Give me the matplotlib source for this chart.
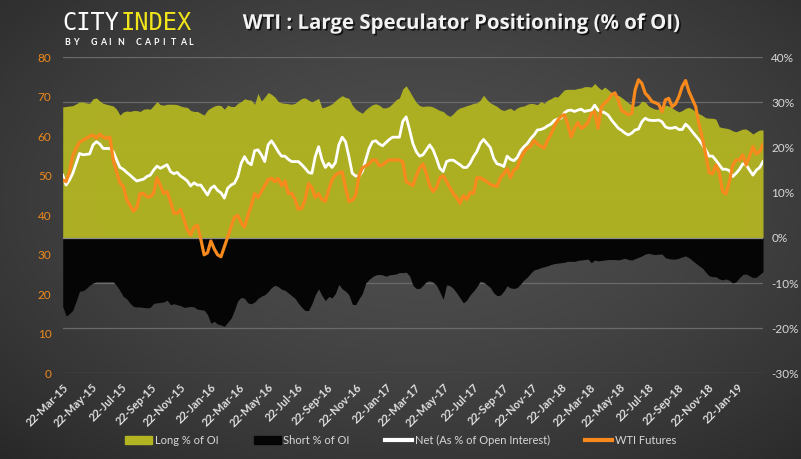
import matplotlib
matplotlib.use('Agg')
import matplotlib.pyplot as plt
import matplotlib.patheffects as pe
from matplotlib.patches import Patch
from matplotlib.lines import Line2D
import numpy as np
import pandas as pd

# weekly COT readings, first week 22-Mar-15
first_week = '2015-03-22'

long_pct = [
    29.0, 29.1, 29.2, 29.3, 29.7, 30.1, 30.1, 29.9, 29.8, 30.8, 31.0, 30.3, 29.8, 29.6, 29.4,
    29.2, 28.5, 27.2, 27.9, 28.1, 28.0, 28.2, 28.2, 28.0, 28.5, 28.6, 28.5, 29.3, 30.2, 29.5,
    29.4, 29.6, 29.6, 29.6, 29.5, 29.2, 29.0, 28.9, 28.2, 28.0, 28.0, 27.6, 27.2, 28.3, 28.8,
    29.2, 29.4, 29.3, 28.5, 29.4,
    29.1, 29.1, 29.8, 30.2, 30.8, 30.6, 30.5, 29.6, 32.0, 30.3, 31.2, 32.2, 31.8, 31.2, 30.2,
    29.9, 29.8, 29.7, 29.6, 29.8, 30.4, 30.9, 31.0, 30.5, 30.1, 30.5, 30.9, 28.8, 29.0, 29.3,
    29.7, 30.4, 31.0, 31.5, 31.1, 30.9, 29.4, 28.5, 28.0, 27.6, 28.4, 29.0, 29.5, 29.7, 29.4,
    28.8, 28.8, 29.1, 29.8, 30.6, 31.0, 33.0, 33.7, 32.5,
    31.2, 30.0, 29.3, 29.1, 29.2, 29.2, 29.0, 28.6, 28.2, 28.0, 27.3, 26.9, 27.5, 28.3, 28.8,
    29.0, 29.3, 29.5, 29.8, 29.9, 30.5, 31.6, 30.6, 29.9, 29.5, 29.1, 28.5, 28.2, 28.5, 28.7,
    28.2, 28.8, 29.1, 29.2, 29.6, 29.8, 29.7, 29.5, 30.2, 29.8, 30.5, 30.8, 31.3, 31.2, 32.0,
    32.8, 32.9, 32.9, 32.9, 33.1, 33.2, 33.5, 33.5,
    33.4, 34.2, 33.4, 32.8, 33.4, 32.8, 32.2, 31.4, 31.6, 31.1, 30.5, 29.9, 29.4, 29.1, 29.4,
    30.3, 30.1, 29.2, 28.8, 28.5, 28.5, 28.5, 29.4, 29.2, 28.8, 28.3, 27.9, 28.2, 28.7, 28.9,
    28.5, 27.9, 27.5, 27.1, 26.6, 26.5, 26.5, 26.3, 24.6, 24.4, 24.3, 24.1, 23.7, 23.5, 23.8,
    24.1, 24.1, 23.6, 23.0, 23.5, 23.9, 23.9,
]

short_pct = [
    -15.2, -17.3, -16.8, -16.0, -14.0, -11.8, -11.7, -11.2, -10.5, -10.0, -9.7, -9.7, -9.7, -9.7, -9.7,
    -9.7, -10.6, -11.7, -13.0, -13.5, -14.5, -15.2, -15.3, -15.3, -15.4, -15.5, -15.4, -14.5, -14.4, -14.3,
    -14.2, -13.8, -14.8, -14.6, -14.8, -15.0, -15.4, -15.3, -15.2, -15.3, -15.8, -15.9, -16.0, -17.0, -18.9,
    -18.5, -19.1, -19.3, -19.6, -18.7,
    -17.8, -16.0, -13.9, -13.2, -13.4, -14.4, -14.6, -14.2, -13.4, -12.9, -12.6, -11.9, -11.0, -10.5, -10.8,
    -11.4, -11.6, -12.2, -12.8, -13.4, -14.5, -15.4, -16.1, -16.1, -14.6, -12.6, -11.3, -12.8, -13.9, -13.0,
    -13.3, -12.3, -10.3, -11.3, -11.8, -12.6, -14.7, -14.8, -13.5, -12.3, -10.0, -9.2, -8.6, -8.2, -8.1,
    -8.2, -8.5, -8.2, -8.1, -8.0, -7.7, -7.7, -7.6, -8.4,
    -10.5, -11.2, -11.2, -10.5, -9.7, -9.5, -9.8, -10.5, -12.0, -13.6, -10.4, -10.6, -11.2, -12.2, -13.3,
    -14.4, -13.8, -12.6, -11.8, -10.8, -9.6, -9.8, -10.4, -11.0, -12.2, -12.8, -12.7, -11.8, -10.6, -11.1,
    -11.2, -11.0, -10.2, -9.3, -8.7, -7.8, -7.1, -6.9, -6.6, -6.4, -6.2, -5.9, -5.7, -5.6, -5.5,
    -5.4, -5.2, -5.2, -5.2, -5.0, -4.9, -4.8, -4.7,
    -5.5, -4.9, -5.1, -5.0, -4.9, -4.8, -4.8, -4.8, -4.9, -4.7, -4.5, -4.8, -4.9, -4.6, -4.3,
    -4.0, -3.6, -3.4, -3.6, -3.7, -3.6, -3.6, -4.4, -4.6, -4.7, -4.7, -4.5, -4.2, -4.0, -4.4,
    -5.0, -5.6, -6.2, -6.7, -7.6, -8.4, -8.6, -8.6, -9.1, -9.3, -9.1, -9.4, -10.0, -9.7, -8.8,
    -8.1, -8.0, -8.4, -8.8, -8.7, -8.1, -7.5,
]

net_pct = [
    13.9, 11.7, 12.8, 14.3, 16.5, 18.7, 18.4, 18.5, 18.6, 20.6, 21.3, 20.8, 19.8, 19.8, 19.8,
    19.1, 17.3, 15.6, 15.2, 14.5, 13.9, 13.2, 12.6, 12.8, 13.0, 13.6, 13.9, 15.0, 15.9, 15.4,
    15.8, 16.2, 14.7, 14.2, 14.5, 13.7, 13.2, 12.6, 11.5, 12.2, 11.7, 11.7, 10.6, 9.5, 11.0,
    11.5, 10.5, 10.0, 8.8, 11.0,
    11.7, 12.1, 13.6, 16.5, 18.0, 16.7, 16.2, 19.3, 19.5, 18.4, 16.9, 20.6, 21.5, 20.4, 19.1,
    18.1, 18.1, 17.4, 16.9, 16.9, 16.9, 16.2, 15.4, 14.5, 14.3, 18.0, 20.2, 17.3, 15.6, 16.5,
    15.6, 16.7, 20.6, 22.3, 21.3, 18.0, 14.3, 13.7, 13.7, 14.7, 17.3, 19.8, 21.3, 21.5, 20.8,
    20.4, 21.1, 21.8, 22.3, 22.3, 22.3, 25.8, 26.8, 24.0,
    20.9, 19.1, 18.1, 18.4, 19.5, 20.6, 19.5, 17.6, 15.4, 14.7, 16.9, 17.2, 17.2, 16.7, 16.2,
    15.6, 15.6, 16.5, 18.0, 19.1, 20.9, 21.8, 20.9, 20.0, 17.6, 16.4, 16.2, 15.8, 18.1, 17.4,
    17.1, 17.8, 19.3, 20.2, 20.9, 22.0, 22.8, 23.9, 24.0, 24.3, 24.8, 25.2, 26.0, 26.3, 26.5,
    27.7, 28.2, 28.3, 28.0, 28.3, 28.5, 28.0, 28.2,
    28.3, 29.4, 28.3, 28.0, 27.7, 27.2, 26.1, 25.2, 24.3, 23.8, 23.2, 22.8, 23.2, 23.9, 24.1,
    25.7, 26.5, 26.1, 26.0, 26.0, 26.1, 25.7, 24.6, 24.3, 24.3, 24.5, 24.0, 24.0, 25.2, 24.5,
    23.5, 22.6, 21.7, 20.6, 19.5, 18.1, 18.1, 17.2, 16.2, 15.2, 15.2, 14.9, 13.6, 14.3, 15.2,
    16.4, 16.2, 15.0, 13.9, 15.0, 15.6, 16.9,
]

wti = [
    49.0, 48.5, 51.0, 55.0, 57.0, 58.5, 59.0, 59.5, 60.0, 60.3, 59.5, 60.5, 59.8, 59.5, 59.8,
    54.0, 51.0, 48.2, 47.3, 44.0, 42.5, 41.0, 42.0, 45.5, 45.5, 44.7, 44.7, 45.6, 49.5, 47.5,
    45.5, 46.0, 43.5, 40.5, 40.5, 41.5, 39.0, 36.3, 35.0, 37.0, 37.5, 34.0, 30.0, 30.5, 33.5,
    31.5, 30.0, 29.5, 32.0, 34.5,
    37.0, 39.5, 40.0, 38.0, 37.0, 40.0, 42.5, 45.5, 44.5, 46.0, 47.5, 49.0, 49.4, 48.5, 49.3,
    47.5, 48.7, 45.5, 45.6, 44.0, 41.5, 41.8, 44.0, 48.0, 47.0, 44.5, 45.5, 44.0, 43.5, 46.5,
    49.0, 50.2, 50.7, 51.0, 47.0, 43.5, 43.8, 45.0, 50.0, 52.0, 52.5, 53.0, 54.0, 54.0, 52.5,
    52.8, 53.5, 54.0, 54.0, 54.0, 54.0, 53.5, 48.5, 48.0,
    47.5, 50.0, 52.0, 53.0, 50.5, 47.5, 46.0, 47.0, 49.5, 50.0, 48.5, 47.0, 45.5, 44.5, 43.0,
    45.0, 44.0, 45.8, 45.5, 49.5, 49.5, 49.0, 48.5, 47.8, 47.5, 47.3, 49.5, 50.5, 51.8, 49.5,
    51.5, 52.0, 54.5, 56.0, 57.0, 57.5, 59.0, 58.0, 57.5, 57.0, 59.0, 60.5, 62.5, 64.0, 65.0,
    65.5, 63.0, 59.8, 62.0, 63.5, 62.0, 62.5, 63.5, 65.8,
    66.2, 62.0, 67.5, 68.4, 69.2, 70.5, 71.0, 69.2, 66.5, 66.0, 65.4, 65.8, 71.7, 74.3, 73.4,
    70.9, 70.0, 68.8, 68.5, 68.1, 66.2, 69.2, 69.6, 67.5, 68.2, 70.0, 72.6, 74.1, 71.3, 69.4,
    67.5, 62.9, 59.5, 55.3, 50.8, 50.5, 52.7, 50.8, 46.0, 45.4, 48.5, 52.7, 54.0, 54.0, 55.3,
    52.7, 54.9, 57.4, 55.5, 56.1, 58.0,
]

dates = pd.date_range(first_week, periods=len(wti), freq='7D')
tick_dates = pd.date_range('2015-03-22', periods=24, freq=pd.DateOffset(months=2))
pct_ticks = list(range(-30, 41, 10))
wti_ticks = list(range(0, 81, 10))

small = ['Lato', 'DejaVu Sans']

fig = plt.figure(figsize=(8.01, 4.59), dpi=100)

# dark radial background
bg = fig.add_axes([0, 0, 1, 1], zorder=-10)
yy, xx = np.mgrid[0:459, 0:801]
r = np.sqrt(((xx - 420) / 560.0) ** 2 + ((yy - 200) / 330.0) ** 2)
v = np.clip(0.305 - 0.13 * r ** 1.6, 0.16, 0.31)
bg.imshow(np.dstack([v, v, v]), aspect='auto', extent=[0, 1, 0, 1])
bg.axis('off')

ax = fig.add_axes([0.0783, 0.1867, 0.8743, 0.6885])
ax.patch.set_alpha(0)
ax.set_xlim(dates[0], dates[-1])
ax.set_ylim(-30, 40)
ax.set_yticks(pct_ticks)
ax.yaxis.grid(True, color='#6a6a6a', lw=0.9)
ax.set_axisbelow(True)

ax.fill_between(dates, 0, long_pct, color='#b2b422', lw=0, alpha=0.96, zorder=2)
ax.fill_between(dates, short_pct, 0, color='#050505', lw=0, zorder=2)
ax.axhline(0, color='#8c8c8c', lw=0.9, zorder=3)
ax.plot(dates, net_pct, color='white', lw=2.0, zorder=4)

ax2 = ax.twinx()
ax2.set_ylim(0, 80)
ax2.set_yticks(wti_ticks)
ax2.plot(dates, wti, color='#f7891d', lw=2.3, zorder=5)

ax.yaxis.tick_right()
ax2.yaxis.tick_left()
ax.set_yticklabels(['{}%'.format(t) for t in pct_ticks], color='#d8d8d8', fontsize=8.5, family=small)
ax2.set_yticklabels([str(t) for t in wti_ticks], color='#f08a1c', fontsize=8.5, family=small)
ax.tick_params(axis='y', length=0, pad=6)
ax2.tick_params(axis='y', length=0, pad=8)

ax.set_xticks(tick_dates)
ax.set_xticklabels([d.strftime('%d-%b-%y') for d in tick_dates], rotation=45, ha='right',
                   rotation_mode='anchor', color='#e0e0e0', fontsize=8, fontweight='bold',
                   family=small)
ax.tick_params(axis='x', length=0, pad=6)

for a in (ax, ax2):
    for s in a.spines.values():
        s.set_visible(False)

# title and logo
shadow = [pe.withSimplePatchShadow(offset=(1.2, -1.2), shadow_rgbFace='black', alpha=0.7)]
fig.text(0.575, 0.948, 'WTI : Large Speculator Positioning (% of OI)', ha='center', va='center',
         color='#f2f2f2', fontsize=14.7, fontweight='bold', family='Open Sans', path_effects=shadow)
fig.text(0.078, 0.950, 'CITY', ha='left', va='center', color='white', fontsize=17,
         family='DejaVu Sans Mono')
fig.text(0.078 + 4 * 0.0181, 0.950, 'INDEX', ha='left', va='center', color='#f2e41b', fontsize=17,
         family='DejaVu Sans Mono')
# letter-spaced strapline
for k, ch in enumerate('BY GAIN CAPITAL'):
    fig.text((64 + 8.9 * k) / 801.0, 0.907, ch, ha='left', va='center', color='white',
             fontsize=6.3, fontweight='bold', family=small)

handles = [Patch(color='#b2b422'), Patch(color='#050505'),
           Line2D([], [], color='white', lw=3), Line2D([], [], color='#f7891d', lw=3)]
names = ['Long % of OI', 'Short % of OI', 'Net (As % of Open Interest)', 'WTI Futures']
leg = fig.legend(handles, names, loc='center', bbox_to_anchor=(0.5, 1 - 440 / 459.0), ncol=4,
                 frameon=False, handlelength=2.45, handletextpad=0.2, columnspacing=3.2,
                 prop={'family': small, 'size': 8})
for t in leg.get_texts():
    t.set_color('#d8d8d8')

fig.savefig('out.png', dpi=100)
